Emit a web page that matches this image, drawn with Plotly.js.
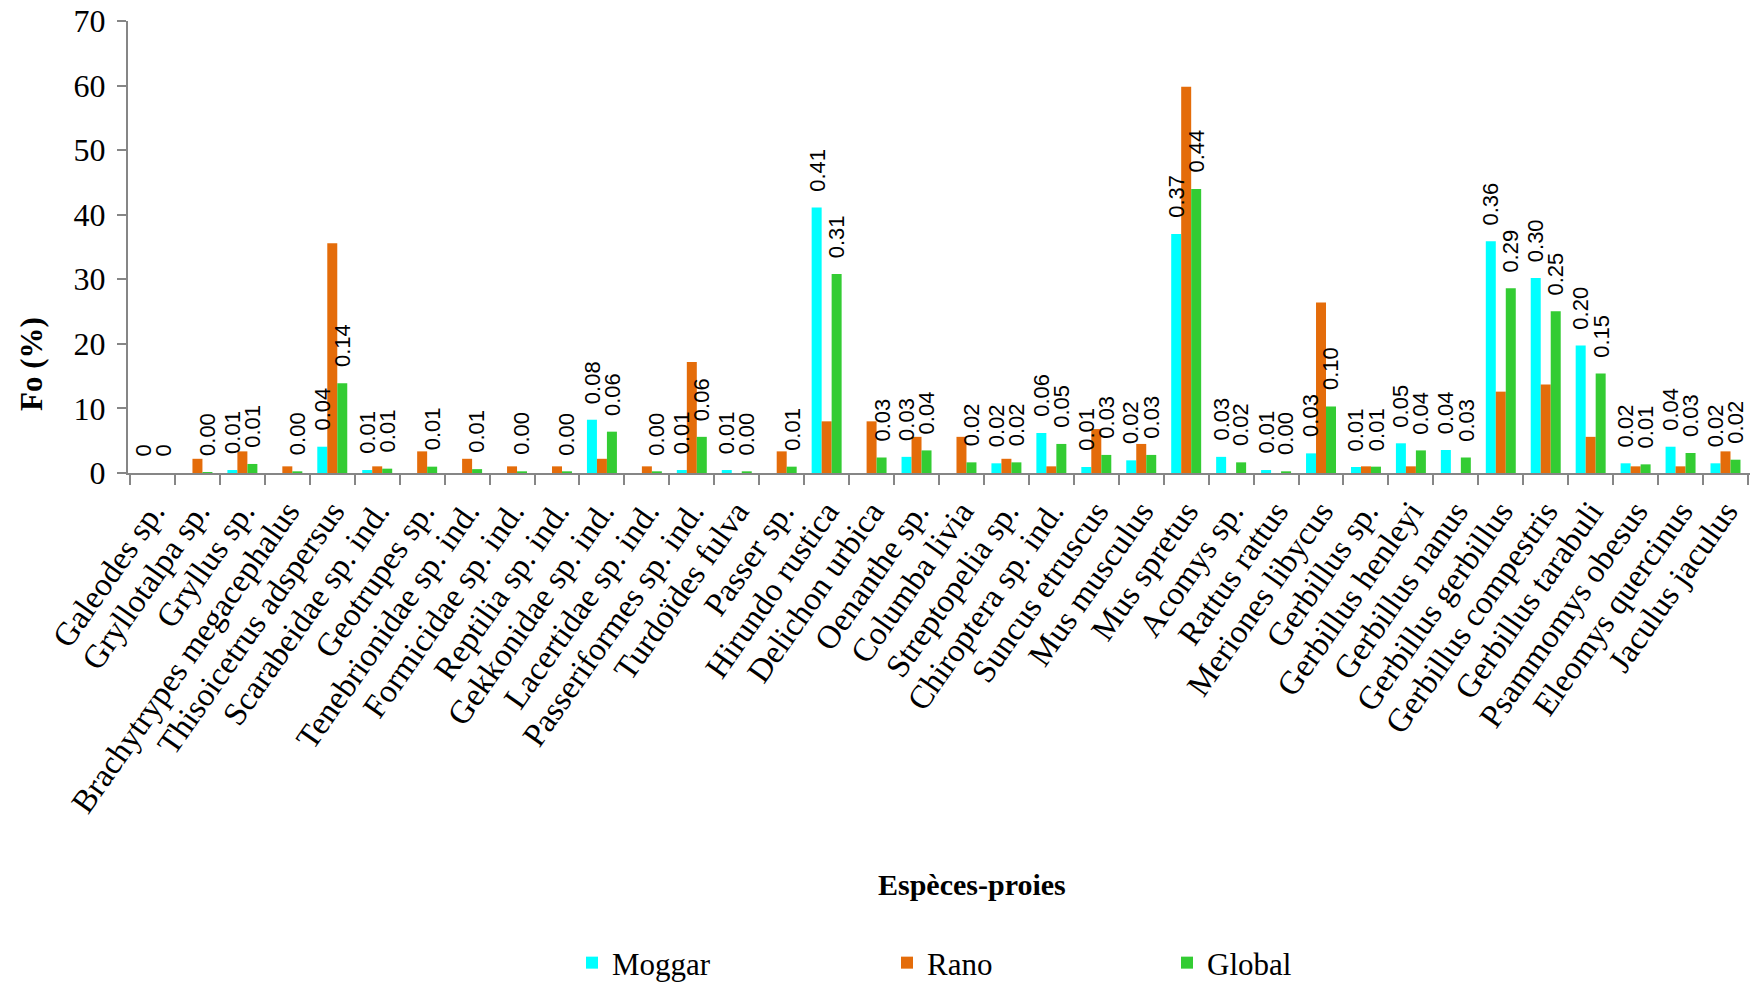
<!DOCTYPE html>
<html>
<head>
<meta charset="utf-8">
<script src="https://cdn.plot.ly/plotly-3.0.1.min.js"></script>
<style>
  html, body { margin: 0; padding: 0; background: #fff; }
  #chart { width: 1753px; height: 984px; }
</style>
</head>
<body>
<div id="chart"></div>
<script>
// Prey species (x categories)
const categories = [
  "Galeodes sp.", "Gryllotalpa sp.", "Gryllus sp.", "Brachytrypes megacephalus",
  "Thisoicetrus adspersus", "Scarabeidae sp. ind.", "Geotrupes sp.", "Tenebrionidae sp. ind.",
  "Formicidae sp. ind.", "Reptilia sp. ind.", "Gekkonidae sp. ind.", "Lacertidae sp. ind.",
  "Passeriformes sp. ind.", "Turdoïdes fulva", "Passer sp.", "Hirundo rustica",
  "Delichon urbica", "Oenanthe sp.", "Columba livia", "Streptopelia sp.",
  "Chiroptera sp. ind.", "Suncus etruscus", "Mus musculus", "Mus spretus",
  "Acomys sp.", "Rattus rattus", "Meriones libycus", "Gerbillus sp.",
  "Gerbillus henleyi", "Gerbillus nanus", "Gerbillus gerbillus", "Gerbillus compestris",
  "Gerbillus tarabuli", "Psammomys obesus", "Eleomys quercinus", "Jaculus jaculus"
];

// Frequency of occurrence Fo (%) per site
const moggar = [
  0, 0, 0.46, 0, 4.07, 0.46, 0, 0, 0, 0, 8.25, 0,
  0.46, 0.46, 0, 41.1, 0, 2.5, 0, 1.5, 6.2, 0.93, 1.96, 37.0,
  2.5, 0.46, 3.04, 0.93, 4.6, 3.56, 35.9, 30.2, 19.75, 1.5, 4.07, 1.5
];
const rano = [
  0, 2.2, 3.35, 1.03, 35.6, 1.03, 3.35, 2.2, 1.03, 1.03, 2.2, 1.03,
  17.2, 0, 3.35, 8.0, 8.0, 5.6, 5.6, 2.2, 1.03, 6.8, 4.5, 59.8,
  0, 0, 26.4, 1.03, 1.03, 0, 12.6, 13.7, 5.6, 1.03, 1.03, 3.35
];
const global = [
  0, 0.15, 1.4, 0.26, 13.9, 0.67, 0.98, 0.6, 0.26, 0.26, 6.4, 0.26,
  5.6, 0.26, 0.98, 30.8, 2.4, 3.5, 1.65, 1.65, 4.5, 2.8, 2.8, 44.0,
  1.65, 0.26, 10.3, 0.98, 3.5, 2.4, 28.6, 25.05, 15.4, 1.34, 3.1, 2.06
];

// Value labels printed above the Moggar and Global bars
const moggarLabels = [
  "0", "", "0.01", "", "0.04", "0.01", "", "", "", "", "0.08", "",
  "0.01", "0.01", "", "0.41", "", "0.03", "", "0.02", "0.06", "0.01", "0.02", "0.37",
  "0.03", "0.01", "0.03", "0.01", "0.05", "0.04", "0.36", "0.30", "0.20", "0.02", "0.04", "0.02"
];
const globalLabels = [
  "0", "0.00", "0.01", "0.00", "0.14", "0.01", "0.01", "0.01", "0.00", "0.00", "0.06", "0.00",
  "0.06", "0.00", "0.01", "0.31", "0.03", "0.04", "0.02", "0.02", "0.05", "0.03", "0.03", "0.44",
  "0.02", "0.00", "0.10", "0.01", "0.04", "0.03", "0.29", "0.25", "0.15", "0.01", "0.03", "0.02"
];

const seriesNames = ["Moggar", "Rano", "Global"];
const seriesColors = ["#00FFFF", "#E46C0A", "#33CC33"];

const W = 1753, H = 984;
const serif = "Liberation Serif, Times New Roman, serif";
const sans = "Liberation Sans, Arial, sans-serif";

const traces = [moggar, rano, global].map((vals, i) => ({
  type: "bar",
  name: seriesNames[i],
  x: categories,
  y: vals,
  marker: { color: seriesColors[i] },
  legend: i === 0 ? "legend" : "legend" + (i + 1),
  hoverinfo: "x+y+name"
}));

// Labels sit above their own bar: Moggar is the left bar of a group, Global the right one
const barOffset = 10;
const labelAnnotations = [];
function addLabels(vals, labels, shift) {
  labels.forEach((t, k) => {
    if (!t) return;
    labelAnnotations.push({
      x: categories[k], y: vals[k], xref: "x", yref: "y",
      text: t, showarrow: false, textangle: -90,
      xanchor: "center", yanchor: "bottom",
      xshift: shift, yshift: 14,
      font: { family: sans, size: 22, color: "#000" }
    });
  });
}
addLabels(moggar, moggarLabels, -barOffset);
addLabels(global, globalLabels, barOffset);

const plotL = 128, plotR = 1750, plotT = 21, plotB = 473;
const pw = plotR - plotL, ph = plotB - plotT;

const titleAnnotations = [
  {
    text: "<b>Espèces-proies</b>", showarrow: false,
    xref: "paper", yref: "paper",
    x: (972 - plotL) / pw, y: (plotB - 884) / ph,
    xanchor: "center", yanchor: "middle",
    font: { family: serif, size: 30, color: "#000" }
  },
  {
    text: "<b>Fo (%)</b>", showarrow: false, textangle: -90,
    xref: "paper", yref: "paper",
    x: (31 - plotL) / pw, y: (plotB - 364) / ph,
    xanchor: "center", yanchor: "middle",
    font: { family: serif, size: 31, color: "#000" }
  }
];

function legendAt(px) {
  return {
    xref: "container", yref: "container",
    x: px / W, y: 1 - 963 / H,
    xanchor: "left", yanchor: "middle",
    orientation: "h",
    bgcolor: "rgba(0,0,0,0)", borderwidth: 0,
    font: { family: serif, size: 31, color: "#000" }
  };
}

const axisGrey = "#868686";
const layout = {
  width: W, height: H,
  margin: { l: plotL, r: W - plotR, t: plotT, b: H - plotB, pad: 0 },
  paper_bgcolor: "#fff", plot_bgcolor: "#fff",
  font: { family: serif, size: 31, color: "#000" },
  barmode: "group", bargap: 0.333, bargroupgap: 0,
  showlegend: true,
  legend: legendAt(572),
  legend2: legendAt(887),
  legend3: legendAt(1167),
  xaxis: {
    type: "category",
    showline: true, linecolor: axisGrey, linewidth: 2,
    ticks: "outside", tickson: "boundaries", ticklen: 10, tickcolor: axisGrey, tickwidth: 2,
    tickangle: -55,
    tickfont: { family: serif, size: 33, color: "#000" },
    ticklabelstandoff: 4,
    showgrid: false, zeroline: false, automargin: false, fixedrange: true
  },
  yaxis: {
    range: [0, 70], dtick: 10, tick0: 0,
    showline: true, linecolor: axisGrey, linewidth: 2,
    ticks: "outside", ticklen: 9, tickcolor: axisGrey, tickwidth: 2,
    tickfont: { family: serif, size: 32, color: "#000" },
    ticklabelstandoff: 5,
    showgrid: false, zeroline: false, automargin: false, fixedrange: true
  },
  annotations: labelAnnotations.concat(titleAnnotations)
};

Plotly.newPlot("chart", traces, layout, { displayModeBar: false, staticPlot: true });
</script>
</body>
</html>
